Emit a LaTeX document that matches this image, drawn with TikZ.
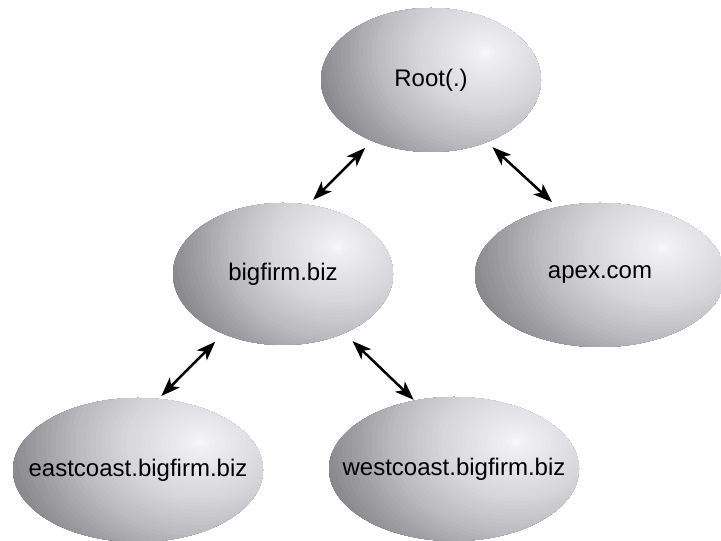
\documentclass[tikz,border=0pt]{standalone}
\usepackage{fontspec}
\setmainfont{Liberation Sans}
\usetikzlibrary{shapes.geometric,arrows.meta}
\pgfdeclarelayer{eggback}
\pgfsetlayers{eggback,main}
\newcommand\eggfill[3]{%
  \begin{pgfonlayer}{eggback}
  \begin{scope}
    \clip (#1.center) ellipse [x radius=#2*1pt, y radius=#3*1pt];
    \foreach \k in {52,51,...,1} {
      \pgfmathsetmacro\eggr{\k*0.04}
      \pgfmathtruncatemacro\eggg{\eggr<0.1 ? 250-100*\eggr : (\eggr<0.6 ? 240-48*(\eggr-0.1) : (\eggr<1.0 ? 216-70*(\eggr-0.6) : (\eggr<1.3 ? 188-93*(\eggr-1.0) : (\eggr<1.55 ? 160-88*(\eggr-1.3) : 138-16*(\eggr-1.55)))))}
      \pgfmathtruncatemacro\eggb{min(\eggg+4,255)}
      \definecolor{eggtmp}{RGB}{\eggg,\eggg,\eggb}
      \fill[eggtmp] ([shift={(0.5*#2,0.38*#3)}]#1.center) ellipse [x radius=\eggr*#2*1pt, y radius=\eggr*1.3*#3*1pt];
    }
  \end{scope}
  \end{pgfonlayer}}
\begin{document}
\begin{tikzpicture}[x=1pt,y=1pt,
  domain/.style={ellipse, minimum width=#1, minimum height=144pt,
    inner sep=0pt, outer sep=0pt, font=\fontsize{24}{28}\selectfont},
  link/.style={{Stealth[length=19pt,width=14pt,inset=5pt]}-{Stealth[length=19pt,width=14pt,inset=5pt]},
    line width=2.5pt, black}]
\useasboundingbox (0,0) rectangle (721,541);
\node[domain=220pt] (root) at (431,461) {\makebox[0pt]{Root(.)}};
\node[domain=220pt, minimum height=142pt] (big) at (283,267) {\makebox[0pt]{bigfirm.biz}};
\node[domain=250pt] (apex) at (600,266) {\makebox[0pt]{apex.com}};
\node[domain=250pt] (east) at (138,71) {\makebox[0pt]{eastcoast.bigfirm.biz}};
\node[domain=250pt] (west) at (454,72) {\makebox[0pt]{westcoast.bigfirm.biz}};
\eggfill{root}{110}{72}
\eggfill{big}{110}{71}
\eggfill{apex}{125}{72}
\eggfill{east}{125}{72}
\eggfill{west}{125}{72}
\draw[link, shorten <=10pt, shorten >=7pt] (root.226) -- (big.70);
\draw[link, shorten <=7.6pt, shorten >=7.7pt] (root.312.4) -- (apex.122.1);
\draw[link, shorten <=11.5pt, shorten >=4.2pt] (big.225.5) -- (east.74.3);
\draw[link, shorten <=11.7pt, shorten >=1.2pt] (big.316.4) -- (west.120.5);
\end{tikzpicture}
\end{document}
